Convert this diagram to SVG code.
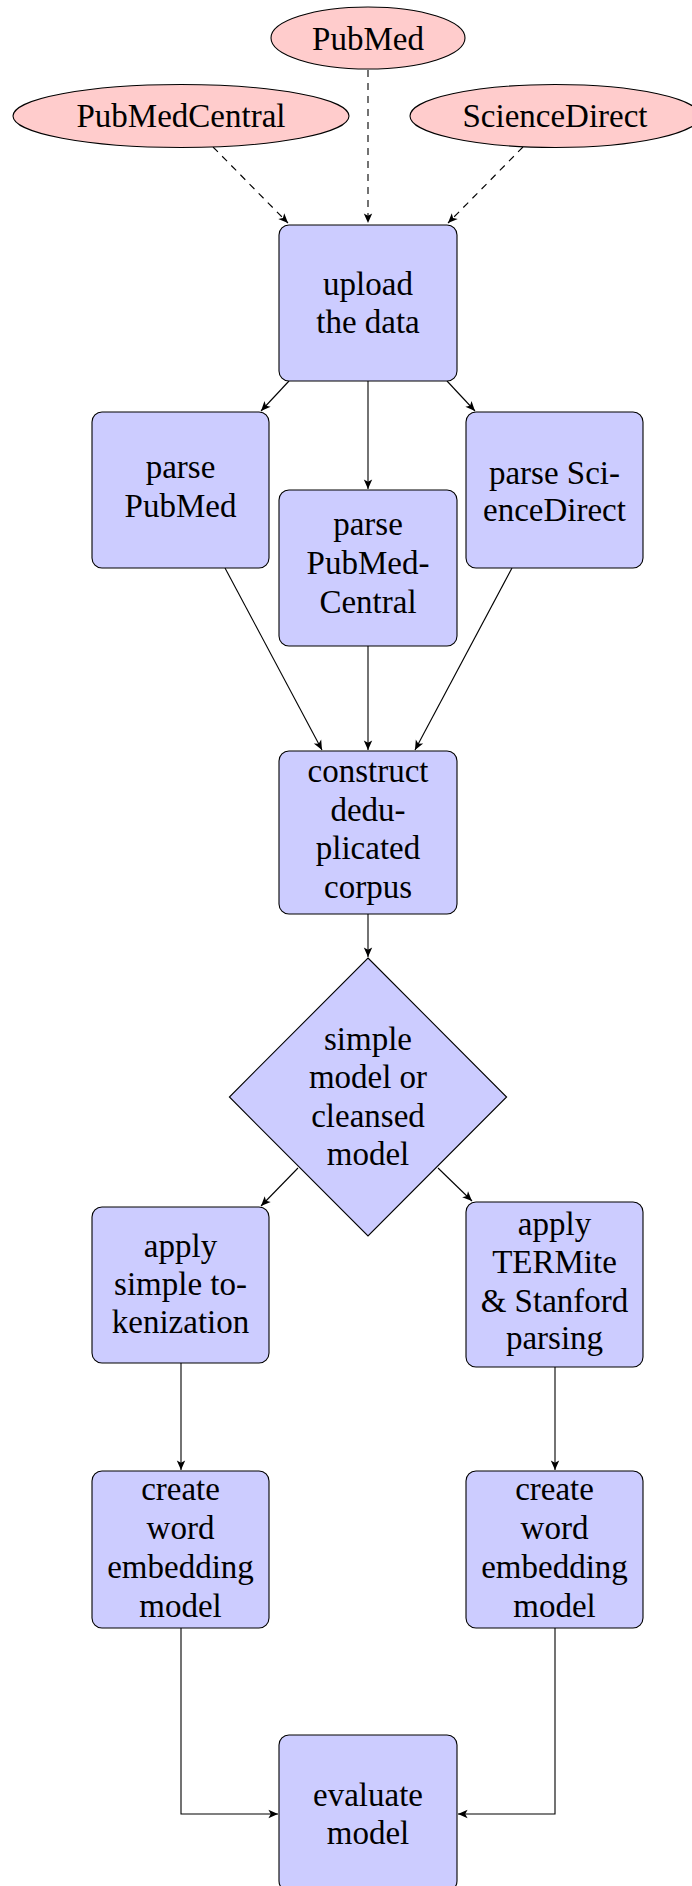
<svg xmlns="http://www.w3.org/2000/svg" width="692" height="1886" viewBox="0 0 692 1886">
<style>
.src{fill:#ffcccc;stroke:#000;stroke-width:1.1}
.box{fill:#ccccff;stroke:#000;stroke-width:1.1}
.t{font-family:"Liberation Serif","Times New Roman",serif;font-size:33px;fill:#000;text-anchor:middle}
.e{fill:none;stroke:#000;stroke-width:1.1;marker-end:url(#ah)}
.d{stroke-dasharray:7 6}
</style>
<defs>
<marker id="ah" markerUnits="userSpaceOnUse" markerWidth="12" markerHeight="10" viewBox="-9 -4 10 8" refX="0" refY="0" orient="auto">
<path d="M0,0 L-8,-3.5 L-6,0 L-8,3.5 Z" fill="#000"/>
</marker>
</defs>
<rect width="692" height="1886" fill="#fff"/>
<g id="connectors">
<path class="e d" d="M368,70 L368,223"/>
<path class="e d" d="M213,147 L288,223"/>
<path class="e d" d="M523,147 L448,223"/>
<path class="e" d="M289,381 L261,411"/>
<path class="e" d="M368,381 L368,489"/>
<path class="e" d="M447,381 L475,411"/>
<path class="e" d="M225,568 L322,750"/>
<path class="e" d="M368,646 L368,750"/>
<path class="e" d="M512,568 L415,750"/>
<path class="e" d="M368,914 L368,957"/>
<path class="e" d="M298,1168 L261,1206"/>
<path class="e" d="M438,1168 L472,1201"/>
<path class="e" d="M181,1363 L181,1470"/>
<path class="e" d="M555,1367 L555,1470"/>
<path class="e" d="M181,1628 L181,1814 L278,1814"/>
<path class="e" d="M555,1628 L555,1814 L458,1814"/>
</g>
<g id="pubmed">
<ellipse class="src" cx="368" cy="38" rx="97" ry="31"/>
<text class="t" x="368" y="50">PubMed</text>
</g>
<g id="pubmedcentral">
<ellipse class="src" cx="181" cy="116" rx="168" ry="31.5"/>
<text class="t" x="181" y="127">PubMedCentral</text>
</g>
<g id="sciencedirect">
<ellipse class="src" cx="555" cy="116" rx="145" ry="31.5"/>
<text class="t" x="555" y="127">ScienceDirect</text>
</g>
<g id="upload">
<rect class="box" x="279" y="225" width="178" height="156" rx="10"/>
<text class="t" x="368" y="295">upload</text>
<text class="t" x="368" y="333">the data</text>
</g>
<g id="parse-pubmed">
<rect class="box" x="92" y="412" width="177" height="156" rx="10"/>
<text class="t" x="180.5" y="478">parse</text>
<text class="t" x="180.5" y="517">PubMed</text>
</g>
<g id="parse-pmc">
<rect class="box" x="279" y="490" width="178" height="156" rx="10"/>
<text class="t" x="368" y="535">parse</text>
<text class="t" x="368" y="574">PubMed-</text>
<text class="t" x="368" y="613">Central</text>
</g>
<g id="parse-sd">
<rect class="box" x="466" y="412" width="177" height="156" rx="10"/>
<text class="t" x="554.5" y="484">parse Sci-</text>
<text class="t" x="554.5" y="521">enceDirect</text>
</g>
<g id="construct">
<rect class="box" x="279" y="751" width="178" height="163" rx="10"/>
<text class="t" x="368" y="782">construct</text>
<text class="t" x="368" y="820.5">dedu-</text>
<text class="t" x="368" y="859">plicated</text>
<text class="t" x="368" y="897.5">corpus</text>
</g>
<g id="decision">
<path class="box" d="M368,958 L506.6,1097 L368,1236 L229.4,1097 Z"/>
<text class="t" x="368" y="1050">simple</text>
<text class="t" x="368" y="1088">model or</text>
<text class="t" x="368" y="1127">cleansed</text>
<text class="t" x="368" y="1165">model</text>
</g>
<g id="apply-simple">
<rect class="box" x="92" y="1207" width="177" height="156" rx="10"/>
<text class="t" x="180.5" y="1257">apply</text>
<text class="t" x="180.5" y="1295">simple to-</text>
<text class="t" x="180.5" y="1333">kenization</text>
</g>
<g id="apply-termite">
<rect class="box" x="466" y="1202" width="177" height="165" rx="10"/>
<text class="t" x="554.5" y="1235">apply</text>
<text class="t" x="554.5" y="1273">TERMite</text>
<text class="t" x="554.5" y="1312">&amp; Stanford</text>
<text class="t" x="554.5" y="1349">parsing</text>
</g>
<g id="create-left">
<rect class="box" x="92" y="1471" width="177" height="157" rx="10"/>
<text class="t" x="180.5" y="1500">create</text>
<text class="t" x="180.5" y="1539">word</text>
<text class="t" x="180.5" y="1578">embedding</text>
<text class="t" x="180.5" y="1617">model</text>
</g>
<g id="create-right">
<rect class="box" x="466" y="1471" width="177" height="157" rx="10"/>
<text class="t" x="554.5" y="1500">create</text>
<text class="t" x="554.5" y="1539">word</text>
<text class="t" x="554.5" y="1578">embedding</text>
<text class="t" x="554.5" y="1617">model</text>
</g>
<g id="evaluate">
<rect class="box" x="279" y="1735" width="178" height="156" rx="10"/>
<text class="t" x="368" y="1806">evaluate</text>
<text class="t" x="368" y="1844">model</text>
</g>
</svg>
